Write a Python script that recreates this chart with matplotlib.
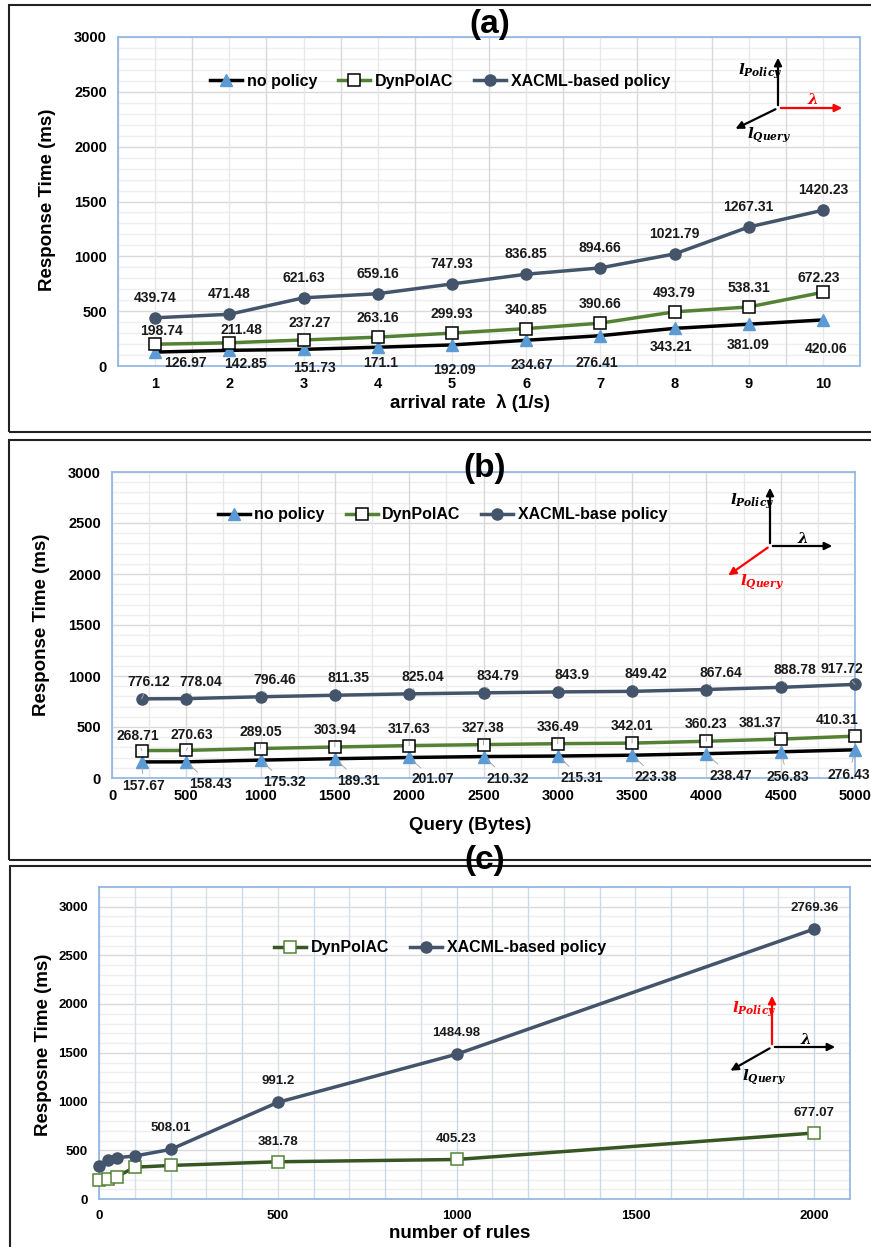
import matplotlib
matplotlib.use('Agg')
import matplotlib.pyplot as plt
from matplotlib.patches import Rectangle, FancyArrowPatch
from matplotlib.lines import Line2D

plt.rcParams['font.family'] = ['Liberation Sans', 'DejaVu Sans']
plt.rcParams['font.weight'] = 'bold'
plt.rcParams['mathtext.fontset'] = 'custom'
plt.rcParams['mathtext.it'] = 'DejaVu Serif:bold:italic'
plt.rcParams['mathtext.rm'] = 'DejaVu Serif:bold'

# (a) arrival rate
rate = [1, 2, 3, 4, 5, 6, 7, 8, 9, 10]
a_nopolicy = [126.97, 142.85, 151.73, 171.1, 192.09, 234.67, 276.41, 343.21, 381.09, 420.06]
a_dyn = [198.74, 211.48, 237.27, 263.16, 299.93, 340.85, 390.66, 493.79, 538.31, 672.23]
a_xacml = [439.74, 471.48, 621.63, 659.16, 747.93, 836.85, 894.66, 1021.79, 1267.31, 1420.23]

# (b) query size
query = [200, 500, 1000, 1500, 2000, 2500, 3000, 3500, 4000, 4500, 5000]
b_nopolicy = [157.67, 158.43, 175.32, 189.31, 201.07, 210.32, 215.31, 223.38, 238.47, 256.83, 276.43]
b_dyn = [268.71, 270.63, 289.05, 303.94, 317.63, 327.38, 336.49, 342.01, 360.23, 381.37, 410.31]
b_xacml = [776.12, 778.04, 796.46, 811.35, 825.04, 834.79, 843.9, 849.42, 867.64, 888.78, 917.72]

# (c) number of rules (first points, unlabeled)
rules = [0, 25, 50, 100, 200, 500, 1000, 2000]
c_dyn = [198, 205, 229, 326, 344, 381.78, 405.23, 677.07]
c_xacml = [336, 403, 424, 441, 508.01, 991.2, 1484.98, 2769.36]
c_dyn_labeled = [False, False, False, False, False, True, True, True]
c_xacml_labeled = [False, False, False, False, True, True, True, True]

W, H = 871, 1247
BLACK = '#000000'
TRI = '#5B9BD5'
GREEN = '#548235'
DGREEN = '#375623'
SLATE = '#44546A'

fig = plt.figure(figsize=(W / 100, H / 100), dpi=100)


def fpos(x, y):
    return (x / W, 1 - y / H)


def make_axes(left, right, top, bottom):
    return fig.add_axes([left / W, 1 - bottom / H, (right - left) / W, (bottom - top) / H])


def style_axes(ax, xlim, ylim, vgrid, vcolor='#D9D9D9', vcolor2=None, tsize=10.5):
    ax.set_xlim(*xlim)
    ax.set_ylim(*ylim)
    for s in ax.spines.values():
        s.set_color('#8EB4E3')
        s.set_linewidth(1.2)
    ax.set_yticks(range(0, 3001, 500))
    ax.tick_params(length=0, labelsize=tsize, pad=8)
    for lab in ax.get_xticklabels() + ax.get_yticklabels():
        lab.set_fontweight('bold')
    y = 0
    while y <= ylim[1]:
        major = (y % 500 == 0)
        ax.axhline(y, color='#D9D9D9' if major else '#EFEFEF', lw=1.0, zorder=0)
        y += 100
    for i, v in enumerate(vgrid):
        c = vcolor if (vcolor2 is None or i % 2 == 0) else vcolor2
        ax.axvline(v, color=c, lw=1.0, zorder=0)


def label_points(ax, xs, ys, offsets, leader=False, mask=None, size=10):
    for i, (x, y) in enumerate(zip(xs, ys)):
        if mask is not None and not mask[i]:
            continue
        dx, dy = offsets[i] if isinstance(offsets, list) else offsets
        kw = {}
        if leader:
            kw['arrowprops'] = dict(arrowstyle='-', color='#A6A6A6', lw=0.7,
                                    shrinkA=2, shrinkB=4)
        ax.annotate('%g' % y, (x, y), xytext=(dx, dy), textcoords='offset pixels',
                    ha='center', va='center', fontsize=size, fontweight='bold',
                    color='#1A1A1A', zorder=6, **kw)


def axis_icon(ox, oy, up, right, down, red):
    ends = {'up': (ox, oy - up), 'right': (ox + right, oy), 'down': (ox - down[0], oy + down[1])}
    col = lambda k: 'red' if k == red else 'black'
    for k, end in ends.items():
        fig.add_artist(FancyArrowPatch(fpos(ox, oy), fpos(*end), transform=fig.transFigure,
                                       arrowstyle='-|>', mutation_scale=11, color=col(k), lw=1.6))
    fig.text(*fpos(ox - 18, oy - up + 16), r'$l_{Policy}$', fontsize=11,
             color=col('up'), ha='center', va='center')
    fig.text(*fpos(ox + right - 32, oy - 8), r'$\lambda$', fontsize=11,
             color=col('right'), ha='center', va='center')
    fig.text(*fpos(ox - down[0] + 36, oy + down[1] + 5), r'$l_{Query}$', fontsize=11,
             color=col('down'), ha='center', va='center')


def add_legend(ax, handles, x, y):
    ax.legend(handles=handles, loc='center', bbox_to_anchor=(x, y), ncol=len(handles),
              frameon=False, prop={'size': 11.5, 'weight': 'bold'}, handlelength=2.0,
              columnspacing=1.3, handletextpad=0.3)


def title(x, y, s):
    fig.text(*fpos(x, y), s, fontsize=24, fontweight='bold', ha='center', va='center',
             family=['Liberation Sans Narrow', 'Liberation Sans'])


def labels(xl, xpos, yl, ypos):
    fig.text(*fpos(*xpos), xl, fontsize=13.5, fontweight='bold', ha='center', va='center')
    fig.text(*fpos(*ypos), yl, fontsize=13.5, fontweight='bold', rotation=90, ha='center', va='center')


h_nop = Line2D([], [], color=BLACK, lw=2.5, marker='^', mfc=TRI, mec=TRI, ms=8, label='no policy')
h_dyn = Line2D([], [], color=GREEN, lw=2.5, marker='s', mfc='white', mec=BLACK, mew=1.1, ms=9, label='DynPolAC')

# frames around the three panels
for (x0, y0, x1, y1) in [(9, 5, 874, 432), (9, 440, 874, 860), (10, 866, 874, 1250)]:
    fig.add_artist(Rectangle(fpos(x0, y1), (x1 - x0) / W, (y1 - y0) / H, transform=fig.transFigure,
                             fill=False, ec='#222222', lw=1.5))

# ---------------- (a) ----------------
ax = make_axes(118, 860, 37, 366)
style_axes(ax, (0.5, 10.5), (0, 3000), [v / 2 for v in range(1, 22)], '#D9D9D9', '#E8E8E8')
ax.set_xticks(rate)
ax.plot(rate, a_nopolicy, color=BLACK, lw=2.5, marker='^', mfc=TRI, mec=TRI, ms=8, zorder=3)
ax.plot(rate, a_dyn, color=GREEN, lw=2.5, marker='s', mfc='white', mec=BLACK, mew=1.1, ms=9, zorder=4)
ax.plot(rate, a_xacml, color=SLATE, lw=2.5, marker='o', ms=8, zorder=5)
label_points(ax, rate, a_xacml, (0, 20))
label_points(ax, rate, a_dyn, [(6, 13), (12, 13), (6, 17), (0, 19), (0, 19), (0, 19), (0, 19), (0, 19), (0, 19), (-4, 14)])
label_points(ax, rate, a_nopolicy, [(30, -11), (16, -14), (11, -19), (3, -16), (3, -25), (6, -25), (-3, -27), (-3, -19), (-1, -21), (3, -29)])
h_x = Line2D([], [], color=SLATE, lw=2.5, marker='o', ms=8, label='XACML-based policy')
add_legend(ax, [h_nop, h_dyn, h_x], 0.434, 0.865)
labels('arrival rate  \u03bb (1/s)', (470, 403), 'Response Time (ms)', (48, 200))
title(490, 24, '(a)')
axis_icon(778, 108, 53, 67, (45, 22), 'right')

# ---------------- (b) ----------------
ax = make_axes(112, 855, 472, 778)
style_axes(ax, (0, 5000), (0, 3000), list(range(0, 5001, 250)), '#D9D9D9', '#E8E8E8')
ax.set_xticks(range(0, 5001, 500))
ax.plot(query, b_nopolicy, color=BLACK, lw=2.5, marker='^', mfc=TRI, mec=TRI, ms=8, zorder=3, clip_on=False)
ax.plot(query, b_dyn, color=GREEN, lw=2.5, marker='s', mfc='white', mec=BLACK, mew=1.1, ms=9, zorder=4, clip_on=False)
ax.plot(query, b_xacml, color=SLATE, lw=2.5, marker='o', ms=8, zorder=5, clip_on=False)
label_points(ax, query, b_xacml, [(7, 17)] + [(14, 17)] * 9 + [(-13, 15)], leader=True)
label_points(ax, query, b_dyn, [(-4, 15), (6, 15)] + [(0, 17)] * 7 + [(-21, 16), (-18, 16)], leader=True)
label_points(ax, query, b_nopolicy, [(2, -24)] + [(24, -22)] * 8 + [(7, -25), (-6, -25)], leader=True)
h_x = Line2D([], [], color=SLATE, lw=2.5, marker='o', ms=8, label='XACML-base policy')
add_legend(ax, [h_nop, h_dyn, h_x], 0.445, 0.86)
labels('Query (Bytes)', (470, 825), 'Response Time (ms)', (42, 625))
title(485, 469, '(b)')
axis_icon(770, 546, 61, 65, (44, 31), 'down')

# ---------------- (c) ----------------
ax = make_axes(99, 850, 887, 1199)
style_axes(ax, (0, 2100), (0, 3200), list(range(0, 2101, 100)), '#C9DAEE', '#DADFE6', tsize=9.5)
ax.set_xticks(range(0, 2001, 500))
ax.plot(rules, c_dyn, color=DGREEN, lw=2.5, marker='s', mfc='white', mec=GREEN, mew=1.1, ms=9, zorder=4, clip_on=False)
ax.plot(rules, c_xacml, color=SLATE, lw=2.5, marker='o', ms=8, zorder=5, clip_on=False)
label_points(ax, rules, c_xacml, (0, 21), mask=c_xacml_labeled, size=9.5)
label_points(ax, rules, c_dyn, (0, 20), mask=c_dyn_labeled, size=9.5)
h_dc = Line2D([], [], color=DGREEN, lw=2.5, marker='s', mfc='white', mec=GREEN, mew=1.1, ms=9, label='DynPolAC')
h_x = Line2D([], [], color=SLATE, lw=2.5, marker='o', ms=8, label='XACML-based policy')
add_legend(ax, [h_dc, h_x], 0.454, 0.805)
labels('number of rules', (460, 1233), 'Resposne Time (ms)', (44, 1045))
title(485, 861, '(c)')
axis_icon(772, 1047, 54, 66, (44, 25), 'up')

fig.savefig('out.png', dpi=100)
